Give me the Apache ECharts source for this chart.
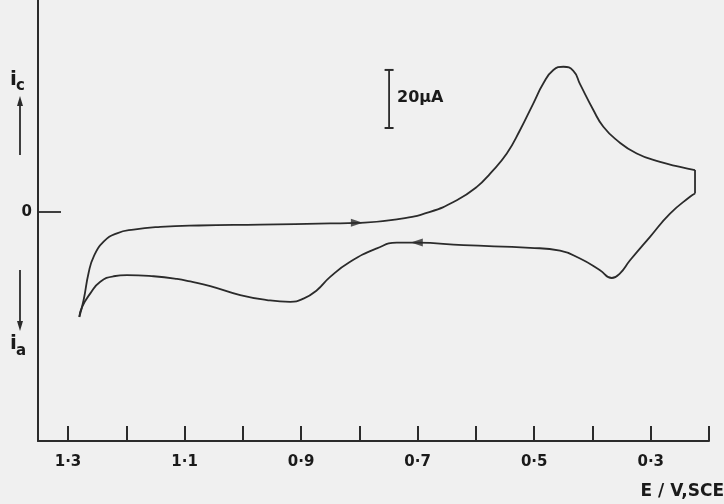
<!DOCTYPE html>
<html>
<head>
<meta charset="utf-8">
<script src="https://cdn.jsdelivr.net/npm/echarts@6/dist/echarts.min.js"></script>
<style>html,body{margin:0;padding:0;background:#f0f0f0;}#chart{width:724px;height:504px;}</style>
</head>
<body>
<div id="chart"></div>
<script>
// Potential (V vs SCE) and current (µA, cathodic positive)
var forwardE = [1.2806,1.2732,1.2647,1.2561,1.2389,1.2160,1.1875,1.1417,1.0760,0.9702,0.8501,0.8043,0.7357,0.6786,0.6328,0.5984,0.5756,0.5470,0.5242,0.5014,0.4842,0.4671,0.4499,0.4328,0.4213,0.3985,0.3813,0.3583,0.3240,0.2840,0.2497,0.2240];
var forwardI = [-36.2,-30.4,-21.1,-15.5,-10.3,-7.4,-6.1,-5.2,-4.7,-4.4,-4.0,-3.8,-2.6,0.0,4.0,8.6,13.2,20.1,28.2,37.4,44.3,48.9,50.0,48.6,44.0,35.1,29.3,24.7,20.1,17.2,15.5,14.4];
var switchE = [0.2240,0.2240];
var switchI = [14.4,6.3];
var reverseE = [0.2240,0.2326,0.2669,0.3012,0.3355,0.3527,0.3669,0.3870,0.4213,0.4556,0.5070,0.6214,0.7014,0.7357,0.7700,0.8158,0.8501,0.8729,0.8959,0.9187,0.9587,1.0045,1.0559,1.0902,1.1130,1.1532,1.1988,1.2218,1.2446,1.2617,1.2760,1.2806];
var reverseI = [6.3,5.2,-0.6,-8.6,-16.7,-21.2,-22.8,-20.1,-16.1,-13.4,-12.4,-11.5,-10.6,-10.6,-12.6,-17.2,-22.4,-27.0,-29.9,-31.0,-30.4,-28.7,-25.6,-24.0,-23.1,-22.2,-21.8,-22.2,-24.1,-28.1,-32.8,-36.2];
var arrowE = [0.8043, 0.7014];
var arrowI = [-3.8, -10.6];
var arrowDir = ['right', 'left'];
var scaleBarE = [0.749, 0.749];
var scaleBarI = [28.9, 48.9];
var xTickValues = [1.3,1.2,1.1,1.0,0.9,0.8,0.7,0.6,0.5,0.4,0.3,0.2];
var xLabelValues = [1.3,1.1,0.9,0.7,0.5,0.3];
var xTickLabels = ['1·3','1·1','0·9','0·7','0·5','0·3'];
var yTickValues = [0];
var yTickLabels = ['0'];

function zip(a, b) { return a.map(function (v, i) { return [v, b[i]]; }); }

var ink = '#2b2b2b';
var font = 'DejaVu Sans';
var chart = echarts.init(document.getElementById('chart'), null, {renderer: 'canvas'});
var lineStyle = {color: ink, width: 1.8};
chart.setOption({
  backgroundColor: '#f0f0f0',
  animation: false,
  grid: {left: 38, right: 15, top: 0, bottom: 63},
  xAxis: {
    type: 'value', inverse: true, min: 0.2, max: 1.3515,
    axisLine: {show: true, onZero: false, lineStyle: {color: ink, width: 2}},
    axisTick: {show: true, inside: true, length: 15, customValues: xTickValues, lineStyle: {color: ink, width: 2}},
    axisLabel: {show: true, customValues: xLabelValues, margin: 14, color: '#1a1a1a', fontFamily: font, fontWeight: 'bold', fontSize: 15,
      formatter: function (v) { var i = xLabelValues.findIndex(function (x) { return Math.abs(x - v) < 1e-6; }); return i >= 0 ? xTickLabels[i] : ''; }},
    splitLine: {show: false}
  },
  yAxis: {
    type: 'value', min: -78.97, max: 73.0,
    axisLine: {show: true, onZero: false, lineStyle: {color: ink, width: 2}},
    axisTick: {show: true, inside: true, length: 23, customValues: yTickValues, lineStyle: {color: ink, width: 1.8}},
    axisLabel: {show: true, customValues: yTickValues, margin: 6, color: '#1a1a1a', fontFamily: font, fontWeight: 'bold', fontSize: 15,
      formatter: function (v) { return Math.abs(v) < 1e-6 ? yTickLabels[0] : ''; }},
    splitLine: {show: false}
  },
  series: [
    {type: 'line', data: zip(forwardE, forwardI), smooth: 0.5, showSymbol: false, lineStyle: lineStyle},
    {type: 'line', data: zip(switchE, switchI), showSymbol: false, lineStyle: lineStyle},
    {type: 'line', data: zip(reverseE, reverseI), smooth: 0.5, showSymbol: false, lineStyle: lineStyle},
    {type: 'scatter', data: zip(arrowE, arrowI).map(function (p, i) {
        return {value: p, symbolRotate: arrowDir[i] === 'right' ? -90 : 90};
      }), symbol: 'triangle', symbolSize: [8, 12], itemStyle: {color: ink}},
    {type: 'line', data: zip(scaleBarE, scaleBarI), showSymbol: true, symbol: 'rect', symbolSize: [9, 2],
      lineStyle: {color: ink, width: 1.8}, itemStyle: {color: ink}}
  ],
  graphic: [
    {type: 'text', left: 10, top: 70, style: {text: 'i', fontFamily: font, fontWeight: 'bold', fontSize: 20, fill: '#1a1a1a'}},
    {type: 'text', left: 16, top: 79, style: {text: 'c', fontFamily: font, fontWeight: 'bold', fontSize: 15, fill: '#1a1a1a'}},
    {type: 'line', shape: {x1: 20, y1: 155, x2: 20, y2: 104}, style: {stroke: ink, lineWidth: 1.8}},
    {type: 'polygon', shape: {points: [[20, 96], [17, 106], [23, 106]]}, style: {fill: ink}},
    {type: 'line', shape: {x1: 20, y1: 270, x2: 20, y2: 322}, style: {stroke: ink, lineWidth: 1.8}},
    {type: 'polygon', shape: {points: [[20, 331], [17, 321], [23, 321]]}, style: {fill: ink}},
    {type: 'text', left: 10, top: 334, style: {text: 'i', fontFamily: font, fontWeight: 'bold', fontSize: 20, fill: '#1a1a1a'}},
    {type: 'text', left: 16, top: 344, style: {text: 'a', fontFamily: font, fontWeight: 'bold', fontSize: 15, fill: '#1a1a1a'}},
    {type: 'text', left: 397, top: 90, style: {text: '20μA', fontFamily: font, fontWeight: 'bold', fontSize: 16, fill: '#1a1a1a'}},
    {type: 'text', right: 0, top: 483, style: {text: 'E / V,SCE', fontFamily: font, fontWeight: 'bold', fontSize: 17, fill: '#1a1a1a'}}
  ]
});
</script>
</body>
</html>
